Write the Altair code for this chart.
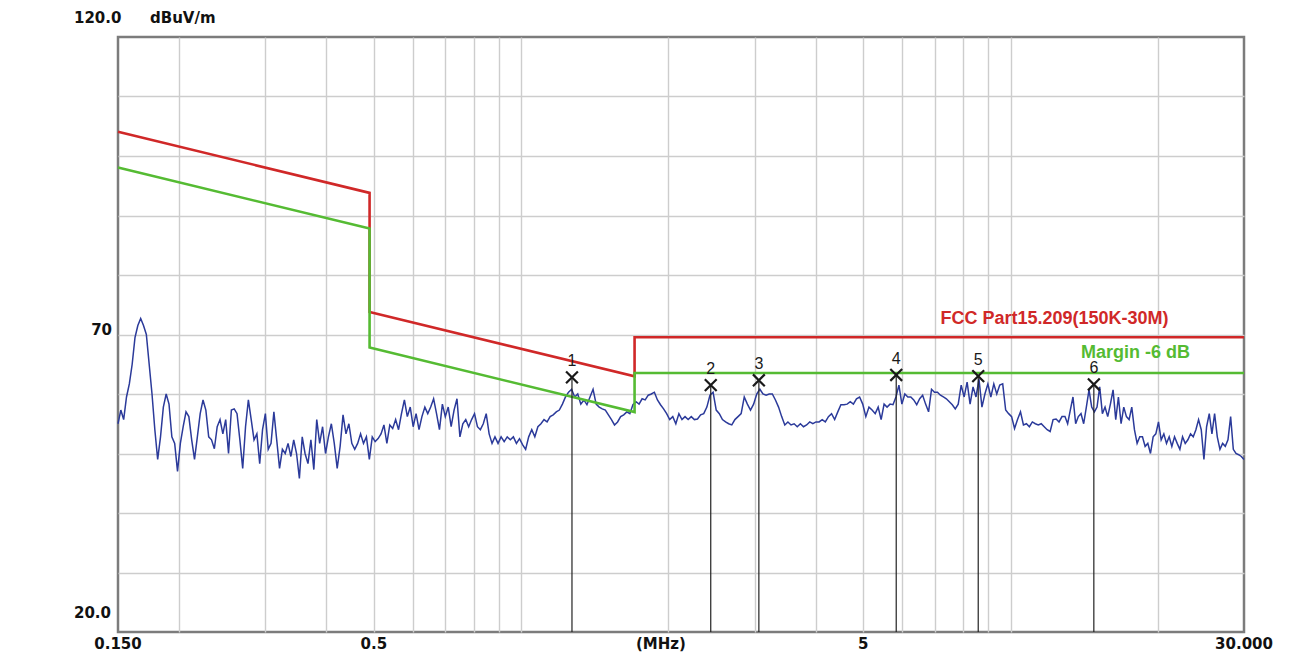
import altair as alt
import numpy as np
import pandas as pd

# ---------------- data ----------------
# Scan trace levels (dBuV/m), read in six frequency segments
seg_edges = [0.15, 0.3617, 0.884, 2.162, 5.29, 12.92, 30.0]
seg_a = [55.0, 57.3, 55.7, 59.5, 61.7, 65.0, 69.5, 71.5, 72.7, 71.5, 70.0, 65.0, 60.0, 54.0, 49.0, 52.8,
         57.8, 60.0, 58.3, 52.8, 51.7, 47.0, 51.7, 54.5, 57.0, 56.2, 52.3, 49.0, 52.8, 56.7, 59.0, 57.3,
         52.8, 52.3, 50.8, 54.5, 55.7, 53.3, 55.7, 50.0, 57.3, 57.5, 56.7, 52.3, 47.5, 54.5, 59.0, 55.7,
         52.3, 53.3, 48.3, 54.0, 56.7, 50.7, 51.7, 57.0, 52.3, 47.5, 50.7, 50.0, 51.7, 49.5, 52.3, 50.0,
         45.8, 52.8]
seg_b = [50.0, 48.3, 52.3, 47.3, 55.7, 51.7, 54.5, 50.0, 52.8, 55.0, 51.7, 47.5, 51.2, 56.5, 53.3, 55.0,
         51.7, 50.7, 51.7, 53.3, 51.7, 52.8, 49.0, 52.8, 52.0, 52.5, 53.3, 54.8, 51.7, 54.8, 54.2, 55.7,
         54.0, 56.7, 59.0, 56.2, 57.8, 54.5, 56.7, 54.0, 56.2, 57.8, 56.7, 57.8, 59.2, 56.7, 54.0, 58.3,
         56.2, 57.8, 54.5, 57.3, 59.2, 52.8, 55.0, 55.7, 54.5, 55.7, 56.7, 54.5, 54.0, 55.0, 56.7, 53.3,
         51.7]
seg_c = [52.8, 51.7, 52.8, 52.0, 52.8, 52.3, 52.8, 51.7, 52.5, 51.5, 50.7, 52.8, 54.0, 52.8, 54.5, 55.0,
         55.7, 55.3, 56.2, 56.5, 57.0, 57.3, 58.3, 59.5, 60.3, 60.8, 59.5, 60.0, 58.3, 59.0, 58.2, 59.5,
         60.8, 58.3, 57.8, 57.5, 57.3, 56.5, 55.7, 54.8, 55.3, 56.2, 56.5, 57.0, 56.7, 58.2, 58.7, 58.3,
         59.2, 59.0, 59.8, 60.0, 60.3, 59.0, 58.2, 57.5, 56.7, 55.7, 56.2, 55.0, 56.7, 55.7]
seg_d = [56.2, 55.7, 56.2, 55.7, 55.8, 56.5, 56.7, 57.8, 59.8, 60.3, 57.3, 56.7, 55.7, 55.3, 55.0, 54.8,
         55.7, 56.2, 56.7, 59.5, 58.3, 57.3, 58.3, 60.0, 60.8, 60.0, 59.8, 60.0, 60.0, 59.0, 57.8, 56.2,
         54.8, 55.3, 54.8, 55.0, 54.5, 55.0, 54.5, 54.8, 55.3, 55.0, 55.3, 55.3, 55.7, 55.3, 56.2, 56.7,
         55.7, 57.0, 58.2, 58.2, 58.3, 58.7, 58.3, 59.2, 59.5, 58.3, 56.2, 57.8, 57.3]
seg_e = [56.7, 57.8, 55.7, 58.3, 57.8, 58.3, 58.2, 59.5, 61.5, 58.3, 60.0, 59.5, 59.5, 59.0, 58.2, 59.2,
         59.8, 58.3, 57.0, 60.8, 60.3, 60.3, 59.8, 59.5, 59.2, 58.7, 58.2, 57.5, 58.3, 61.5, 59.5, 62.0,
         58.3, 61.2, 59.5, 62.5, 57.8, 60.0, 61.7, 59.5, 61.7, 60.0, 61.5, 61.7, 57.3, 56.7, 56.2, 54.2,
         55.7, 57.0, 54.8, 55.0, 54.5, 55.3, 55.0, 54.8, 55.0, 54.5, 54.0, 53.7, 55.7, 55.8, 55.3, 56.2]
seg_f = [56.2, 55.0, 57.3, 59.5, 55.0, 56.2, 56.7, 55.0, 57.8, 60.7, 57.8, 57.0, 57.8, 61.2, 56.7, 57.8,
         56.2, 58.3, 60.7, 55.7, 59.5, 55.0, 57.8, 56.2, 55.7, 57.8, 54.0, 51.7, 52.8, 52.8, 51.2, 51.7,
         50.0, 52.8, 53.3, 55.3, 52.3, 53.3, 51.7, 52.8, 51.2, 52.8, 51.7, 50.7, 52.8, 51.7, 52.3, 53.3,
         52.8, 54.0, 55.7, 54.0, 49.0, 54.5, 56.7, 53.3, 56.7, 52.8, 50.7, 51.7, 51.2, 52.3, 56.2, 50.7,
         50.0, 49.8, 49.5, 49.0]
segments = [seg_a, seg_b, seg_c, seg_d, seg_e, seg_f]

# FCC Part 15.209 limit (3 m) break points
limit_freq = [0.15, 0.49, 0.49, 1.705, 1.705, 30.0]
limit_level = [104.08, 93.8, 73.8, 62.97, 69.54, 69.54]
margin_db = 6.0

# Peak markers
marker_id = ["1", "2", "3", "4", "5", "6"]
marker_freq = [1.27, 2.44, 3.06, 5.84, 8.59, 14.8]
marker_level = [62.8, 61.5, 62.3, 63.2, 63.0, 61.6]

# Axis text
x_tick_vals = [0.15, 0.5, 1.93, 5, 30]
x_tick_labels = ["0.150", "0.5", "(MHz)", "5", "30.000"]
y_edge_vals = [120, 20]
y_edge_labels = ["120.0", "20.0"]
y_mid_vals = [70]
y_mid_labels = ["70"]
y_unit = "dBuV/m"
x_grid = [0.2, 0.3, 0.4, 0.5, 0.6, 0.7, 0.8, 0.9, 1, 2, 3, 4, 5, 6, 7, 8, 9, 10, 20]
y_grid = [30, 40, 50, 60, 70, 80, 90, 100, 110]

limit_name = "FCC Part15.209(150K-30M)"
limit_label_pos = (12.3, 72.6)
margin_name = "Margin -6 dB"
margin_label_pos = (18.0, 66.9)

# ---------------- frames ----------------
freqs, levels = [], []
for i, seg in enumerate(segments):
    last = i == len(segments) - 1
    f = np.geomspace(seg_edges[i], seg_edges[i + 1], len(seg), endpoint=last)
    freqs.extend(f.tolist())
    levels.extend(seg)
trace_df = pd.DataFrame({"f": freqs, "v": levels})

lim_df = pd.DataFrame({"f": limit_freq, "v": limit_level, "o": range(len(limit_freq))})
mar_df = pd.DataFrame({"f": limit_freq, "v": [x - margin_db for x in limit_level],
                       "o": range(len(limit_freq))})
mk_df = pd.DataFrame({"id": marker_id, "f": marker_freq, "v": marker_level, "base": 20})

xt_df = pd.DataFrame({"f": x_tick_vals, "t": x_tick_labels, "v": 20})
ye_df = pd.DataFrame({"f": 0.15, "v": y_edge_vals, "t": y_edge_labels})
ym_df = pd.DataFrame({"f": 0.15, "v": y_mid_vals, "t": y_mid_labels})
unit_df = pd.DataFrame({"f": [0.15], "v": [120], "t": [y_unit]})
leg_df = pd.DataFrame({"f": [limit_label_pos[0]], "v": [limit_label_pos[1]], "t": [limit_name]})
leg2_df = pd.DataFrame({"f": [margin_label_pos[0]], "v": [margin_label_pos[1]], "t": [margin_name]})

# ---------------- scales / axes ----------------
xscale = alt.Scale(type="log", domain=[0.15, 30], nice=False, zero=False)
yscale = alt.Scale(domain=[20, 120], nice=False, zero=False)
xaxis = alt.Axis(values=x_grid, grid=True, labels=False, ticks=False, domain=False, title=None,
                 gridColor="#cdcdcd", gridWidth=1.4)
yaxis = alt.Axis(values=y_grid, grid=True, labels=False, ticks=False, domain=False, title=None,
                 gridColor="#cdcdcd", gridWidth=1.4)


def X(field="f"):
    return alt.X(f"{field}:Q", scale=xscale, axis=xaxis)


def Y(field="v"):
    return alt.Y(f"{field}:Q", scale=yscale, axis=yaxis)


FONT = "Liberation Sans"
AXFONT = "DejaVu Sans"

trace = alt.Chart(trace_df).mark_line(color="#2b3a9a", strokeWidth=1.5).encode(x=X(), y=Y())

limit = alt.Chart(lim_df).mark_line(color="#d02828", strokeWidth=2.6).encode(
    x=X(), y=Y(), order="o:Q")
margin = alt.Chart(mar_df).mark_line(color="#55bb33", strokeWidth=2.6).encode(
    x=X(), y=Y(), order="o:Q")

mk_rule = alt.Chart(mk_df).mark_rule(color="#222222", strokeWidth=1.2).encode(
    x=X(), y=Y("base"), y2="v:Q")
mk_x = alt.Chart(mk_df).mark_point(shape="M -1 -1 L 1 1 M -1 1 L 1 -1", size=140,
                                   filled=False, color="#1a1a1a", strokeWidth=2.2,
                                   opacity=1).encode(x=X(), y=Y())
mk_t = alt.Chart(mk_df).mark_text(font=FONT, fontSize=16, color="#1a1a1a", dy=-16,
                                  baseline="middle").encode(x=X(), y=Y(), text="id:N")

x_labels = alt.Chart(xt_df).mark_text(font=AXFONT, fontSize=15, fontWeight="bold", color="#111111",
                                      dy=12, baseline="middle").encode(x=X(), y=Y(), text="t:N")
y_edge = alt.Chart(ye_df).mark_text(font=AXFONT, fontSize=15, fontWeight="bold", color="#111111",
                                    dy=-19, dx=-44, align="left", baseline="middle").encode(
    x=X(), y=Y(), text="t:N")
y_mid = alt.Chart(ym_df).mark_text(font=AXFONT, fontSize=15, fontWeight="bold", color="#111111",
                                   dy=-5, dx=-6, align="right", baseline="middle").encode(
    x=X(), y=Y(), text="t:N")
unit = alt.Chart(unit_df).mark_text(font=AXFONT, fontSize=15, fontWeight="bold", color="#111111",
                                    dy=-19, dx=32, align="left", baseline="middle").encode(
    x=X(), y=Y(), text="t:N")
leg1 = alt.Chart(leg_df).mark_text(font=FONT, fontSize=18, fontWeight="bold", color="#d02828",
                                   baseline="middle").encode(x=X(), y=Y(), text="t:N")
leg2 = alt.Chart(leg2_df).mark_text(font=FONT, fontSize=18, fontWeight="bold", color="#55bb33",
                                    baseline="middle").encode(x=X(), y=Y(), text="t:N")

chart = alt.layer(
    trace, limit, margin, mk_rule, mk_x, mk_t, x_labels, y_edge, y_mid, unit, leg1, leg2
).properties(
    width=1126, height=595,
    autosize=alt.AutoSizeParams(type="none"),
    padding={"left": 110, "top": 29, "right": 40, "bottom": 22},
    background="white",
).configure_view(stroke="#7c7c7c", strokeWidth=2.5)

chart.save("out.html", embed_options={"renderer": "svg", "actions": False})
